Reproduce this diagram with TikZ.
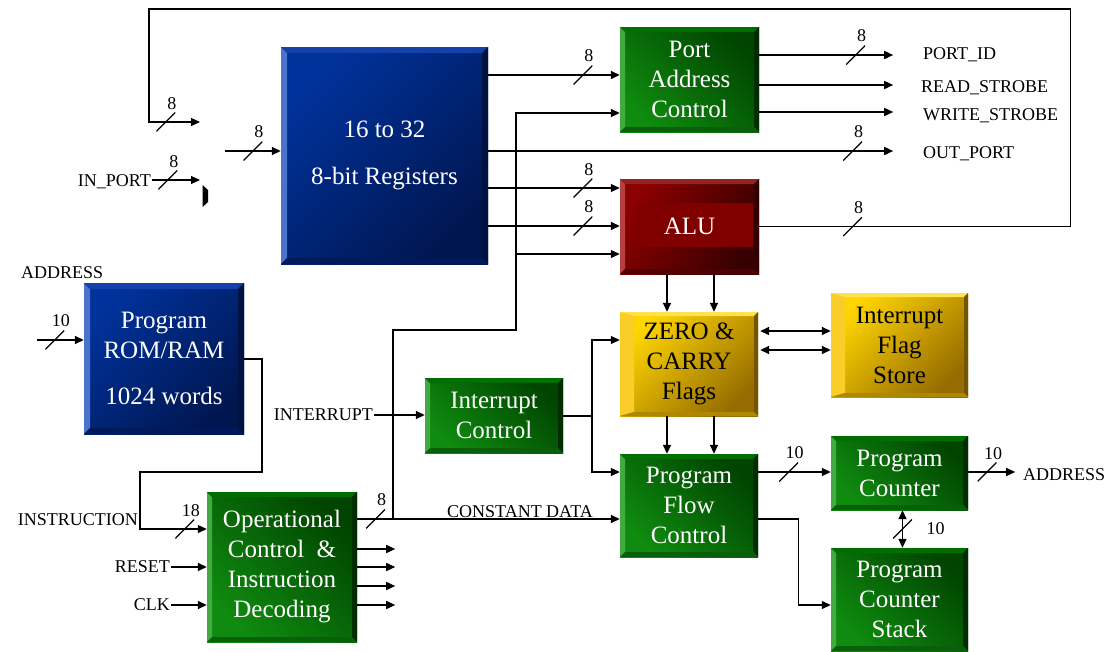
\documentclass[tikz,border=0pt]{standalone}
\usepackage{fontspec}
\setmainfont{Liberation Serif}
\usetikzlibrary{arrows.meta,calc}
\definecolor{blueface}{RGB}{0,50,155}
\definecolor{bluedeep}{RGB}{0,22,80}
\definecolor{bluelite}{RGB}{75,115,205}
\definecolor{bluetop}{RGB}{20,65,170}
\definecolor{blueshade}{RGB}{0,18,65}
\definecolor{bluefoot}{RGB}{0,25,90}
\definecolor{greenface}{RGB}{15,140,15}
\definecolor{greendeep}{RGB}{0,68,0}
\definecolor{greenlite}{RGB}{65,170,65}
\definecolor{greentop}{RGB}{0,110,0}
\definecolor{greenshade}{RGB}{0,45,0}
\definecolor{greenfoot}{RGB}{10,95,10}
\definecolor{goldface}{RGB}{255,214,0}
\definecolor{golddeep}{RGB}{150,108,0}
\definecolor{goldlite}{RGB}{250,205,40}
\definecolor{goldtop}{RGB}{255,226,80}
\definecolor{goldshade}{RGB}{115,85,0}
\definecolor{goldfoot}{RGB}{175,135,0}
\definecolor{aluface}{RGB}{140,0,0}
\definecolor{aludeep}{RGB}{55,0,0}
\definecolor{alulite}{RGB}{180,65,65}
\definecolor{alutop}{RGB}{150,35,35}
\definecolor{alushade}{RGB}{50,0,0}
\definecolor{alufoot}{RGB}{80,0,0}
\definecolor{alucore}{RGB}{128,0,0}

% bevel: left width, edge width, left, top, right, bottom colours
\newcommand\bevel[6]{%
  \fill[#3] (path picture bounding box.north west) -- (path picture bounding box.south west)
    -- ([shift={(#1,#2)}]path picture bounding box.south west) -- ([shift={(#1,-#2)}]path picture bounding box.north west) -- cycle;
  \fill[#4] (path picture bounding box.north west) -- (path picture bounding box.north east)
    -- ([shift={(-#2,-#2)}]path picture bounding box.north east) -- ([shift={(#1,-#2)}]path picture bounding box.north west) -- cycle;
  \fill[#5] (path picture bounding box.north east) -- (path picture bounding box.south east)
    -- ([shift={(-#2,#2)}]path picture bounding box.south east) -- ([shift={(-#2,-#2)}]path picture bounding box.north east) -- cycle;
  \fill[#6] (path picture bounding box.south west) -- (path picture bounding box.south east)
    -- ([shift={(-#2,#2)}]path picture bounding box.south east) -- ([shift={(#1,#2)}]path picture bounding box.south west) -- cycle;
}

\begin{document}
\begin{tikzpicture}[x=1pt, y=-1pt,
    sig/.style={line width=1.6pt, -{Triangle[length=9pt,width=8pt]}},
    sigl/.style={line width=1.1pt, -{Triangle[length=9pt,width=8pt]}},
    dsig/.style={line width=1.6pt, {Triangle[length=9pt,width=8pt]}-{Triangle[length=9pt,width=8pt]}},
    wire/.style={line width=1.1pt},
    lbl/.style={font=\fontsize{18}{20}\selectfont, inner sep=1pt},
    bus/.style={minimum size=19pt, inner sep=0pt,
      path picture={\draw[-, line width=1.2pt] (path picture bounding box.south west) -- (path picture bounding box.north east);},
      label={[lbl, label distance=1pt, xshift=6pt]above:#1}},
    vbus/.style={minimum size=19pt, inner sep=0pt,
      path picture={\draw[-, line width=1.2pt] (path picture bounding box.south west) -- (path picture bounding box.north east);},
      label={[lbl, label distance=12pt]right:#1}},
    blk/.style={inner sep=0pt, align=center, font=\fontsize{25}{30}\selectfont, text=white},
    blueblk/.style={blk, left color=blueface, right color=bluedeep, shading angle=45,
      path picture={\bevel{6pt}{6pt}{bluelite}{bluetop}{blueshade}{bluefoot}}},
    greenblk/.style={blk, left color=greenface, right color=greendeep, shading angle=135,
      path picture={\bevel{5pt}{5pt}{greenlite}{greentop}{greenshade}{greenfoot}}},
    goldblk/.style={blk, text=black, left color=goldface, right color=golddeep, shading angle=45,
      path picture={\bevel{14pt}{4pt}{goldlite}{goldtop}{goldshade}{goldfoot}}},
    alublk/.style={blk, left color=aluface, right color=aludeep, shading angle=60,
      path picture={\bevel{5pt}{5pt}{alulite}{alutop}{alushade}{alufoot}
        \fill[alucore] ([shift={(16pt,-24pt)}]path picture bounding box.north west) rectangle ([shift={(-6pt,27pt)}]path picture bounding box.south east);}},
  ]
  \useasboundingbox (0,0) rectangle (1111,651);

  % Blocks
  \node[blueblk, minimum width=207pt, minimum height=217pt] (reg) at (384.5,155.5) {16 to 32\\[17pt]8-bit Registers};
  \node[blueblk, minimum width=160pt, minimum height=151pt] (rom) at (164,358.5) {Program\\ROM/RAM\\[16pt]1024 words};
  \node[greenblk, minimum width=139pt, minimum height=105pt] (pac) at (689.5,79.5) {Port\\Address\\Control};
  \node[alublk, minimum width=139pt, minimum height=95pt] (alu) at (689.5,226.5) {ALU};
  \node[goldblk, minimum width=138pt, minimum height=104pt] (flg) at (689,364) {ZERO \&\\CARRY\\Flags};
  \node[goldblk, minimum width=137pt, minimum height=104pt] (ifs) at (899.5,345) {Interrupt\\Flag\\Store};
  \node[greenblk, minimum width=138pt, minimum height=75pt] (ic) at (494,415.5) {Interrupt\\Control};
  \node[greenblk, minimum width=138pt, minimum height=103pt] (pfc) at (689,505.5) {Program\\Flow\\Control};
  \node[greenblk, minimum width=137pt, minimum height=74pt] (pc) at (899.5,473) {Program\\Counter};
  \node[greenblk, minimum width=137pt, minimum height=103pt] (pcs) at (899.5,599.5) {Program\\Counter\\Stack};
  \node[greenblk, minimum width=150pt, minimum height=150pt] (opc) at (282,567) {Operational\\Control\ \ \&\\Instruction\\Decoding};

  % Port names
  \node[lbl, anchor=west] (pid) at (922,55) {PORT\_ID};
  \node[lbl, anchor=west] (rds) at (920,88) {READ\_STROBE};
  \node[lbl, anchor=west] (wrs) at (922,116) {WRITE\_STROBE};
  \node[lbl, anchor=west] (outp) at (922,154) {OUT\_PORT};
  \node[lbl, anchor=east] (inport) at (152,182) {IN\_PORT};
  \node[lbl, anchor=west] (addrin) at (20,273) {ADDRESS};
  \node[lbl, anchor=east] (intr) at (374,415) {INTERRUPT};
  \node[lbl, anchor=east] (instr) at (139,520) {INSTRUCTION};
  \node[lbl, anchor=east] (rst) at (171,567) {RESET};
  \node[lbl, anchor=east] (clk) at (171,605) {CLK};
  \node[lbl, anchor=west] (addrout) at (1022,475) {ADDRESS};

  \coordinate (fbin) at (200,122);
  \coordinate (inpin) at (200,180);
  \coordinate (regsrc) at (225,151);
  \coordinate (romsrc) at (37,340);
  \coordinate (cdj) at (393,519);
  \coordinate (alj) at (516,254);
  \coordinate (icj) at (592,416);

  % Register file paths
  \draw[sigl] (alu.east) -- ++(311.5,0) node[bus=8, pos=0.3] {} |- (149,9) -- (149,122) -- (fbin) node[bus=8, pos=0.33] {};
  \draw[sigl] (inport.east |- inpin) -- (inpin) node[bus=8, pos=0.33] {};
  \fill (202.5,185) -- (208,190) -- (208,202) -- (202.5,207) -- cycle;
  \draw[sig] (regsrc) -- (reg.west |- regsrc) node[bus=8, pos=0.5] {};
  \draw[sig] (reg.east |- 0,75) -- (pac.west |- 0,75) node[bus=8, pos=0.72] {};
  \draw[sig] (reg.east |- 0,151) -- ++(405,0) node[bus=8, pos=0.9] {};
  \draw[sigl] (reg.east |- 0,188) -- (alu.west |- 0,188) node[bus=8, pos=0.72] {};
  \draw[sig] (reg.east |- 0,226) -- (alu.west |- 0,226) node[bus=8, pos=0.72] {};

  % Port outputs
  \draw[sig] (pac.east |- 0,55) -- ++(134,0) node[bus=8, pos=0.72] {};
  \draw[sig] (pac.east |- 0,85) -- ++(134,0);
  \draw[sig] (pac.east |- 0,112) -- ++(134,0);

  % Constant data
  \draw[sig] (opc.east |- cdj) -- (pfc.west |- cdj) node[bus=8, pos=0.07] {} node[lbl, above, pos=0.62] {CONSTANT DATA};
  \draw[sig] (cdj) -- (393,330) -- (516,330) -- (516,113) -- (pac.west |- 0,113);
  \draw[sigl] (alj) -- (alu.west |- alj);

  % Flags
  \foreach \xx in {667,714} {
    \draw[sig] (alu.south -| \xx,0) -- (flg.north -| \xx,0);
    \draw[sig] (flg.south -| \xx,0) -- (pfc.north -| \xx,0);
  }
  \draw[dsig, shorten <=2pt] (flg.east |- 0,331) -- (ifs.west |- 0,331);
  \draw[dsig, shorten <=2pt] (flg.east |- 0,350) -- (ifs.west |- 0,350);

  % Interrupt
  \draw[sig] (intr.east) -- (ic.west |- intr.east);
  \draw[sigl] (ic.east |- icj) -- (icj) |- (flg.west |- 0,340);
  \draw[sigl] (icj) |- (pfc.west |- 0,472);

  % Program counter
  \draw[sig] (pfc.east |- 0,472) -- (pc.west |- 0,472) node[bus=10, pos=0.42] {};
  \draw[sigl] (pc.east |- 0,472) -- ++(47,0) node[bus=10, pos=0.4] {};
  \draw[dsig] ([xshift=3pt]pc.south) -- ([xshift=3pt]pcs.north) node[vbus=10, midway] {};
  \draw[sigl] (pfc.east |- 0,519) -- ++(40,0) |- (pcs.west |- 0,605);

  % Program memory and decoder
  \draw[sig] (romsrc) -- (rom.west |- romsrc) node[bus=10, pos=0.38] {};
  \draw[sigl] (rom.east |- 0,359) -| (262,472) -| (140,529) -- (opc.west |- 0,529) node[bus=18, pos=0.67] {};
  \draw[sig] (rst.east) -- (opc.west |- rst.east);
  \draw[sig] (clk.east) -- (opc.west |- clk.east);
  \foreach \yy in {549,567,586,605}
    \draw[sig] (opc.east |- 0,\yy) -- ++(38,0);
\end{tikzpicture}
\end{document}
